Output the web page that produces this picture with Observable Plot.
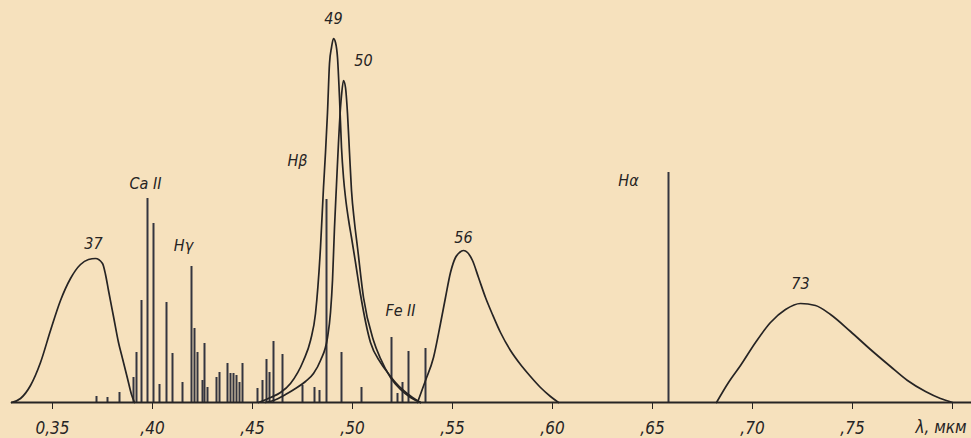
<!DOCTYPE html>
<html>
<head>
<meta charset="utf-8">
<script src="https://cdn.jsdelivr.net/npm/d3@7"></script>
<script src="https://cdn.jsdelivr.net/npm/@observablehq/plot@0.6"></script>
<style>
  html, body { margin: 0; padding: 0; background: #f6e1bd; }
  #chart svg { display: block; }
</style>
</head>
<body>
<div id="chart"></div>
<script>
// Filter transmission curves: [wavelength (µm), relative transmission]
const filter37 = [[0.327,0],[0.3315,4],[0.3365,17],[0.3415,40],[0.3465,72],[0.3515,102],[0.3565,124],[0.3615,138],[0.3655,143],[0.369,144],[0.3725,139],[0.374,128],[0.3755,112],[0.378,86],[0.3805,60],[0.3825,44],[0.385,24],[0.387,8],[0.3885,0]];
const filter49 = [[0.4505,0],[0.4565,5],[0.4615,10],[0.4665,19],[0.473,42],[0.4765,62],[0.479,89],[0.4815,155],[0.483,215],[0.484,250],[0.485,290],[0.486,339],[0.487,355],[0.488,364],[0.489,360],[0.490,345],[0.491,305],[0.492,255],[0.493,225],[0.494,205],[0.4955,183],[0.497,165],[0.499,140],[0.5015,108],[0.5065,60],[0.5115,40],[0.515,30],[0.519,20],[0.523,12],[0.5275,5],[0.5315,0]];
const filter50 = [[0.454,0],[0.458,2],[0.464,8],[0.469,14],[0.474,21],[0.478,29],[0.4815,42],[0.485,65],[0.4865,90],[0.4875,122],[0.4885,175],[0.4895,218],[0.4905,260],[0.4915,295],[0.492,307],[0.493,322],[0.494,315],[0.495,289],[0.496,250],[0.497,212],[0.4985,180],[0.5,155],[0.503,105],[0.508,62],[0.5115,44],[0.5165,25],[0.5215,13],[0.5265,5],[0.5315,0]];
const filter56 = [[0.53,0],[0.534,22],[0.538,45],[0.5415,79],[0.544,105],[0.5465,130],[0.549,145],[0.551,150],[0.553,152],[0.555,150],[0.5575,142],[0.5605,125],[0.564,105],[0.5675,88],[0.5715,70],[0.5765,52],[0.5815,38],[0.5865,26],[0.5915,15],[0.5965,6],[0.6005,0]];
const filter73 = [[0.6795,0],[0.6855,20],[0.6915,37],[0.699,60],[0.7065,80],[0.714,93],[0.7215,99],[0.729,97],[0.7365,88],[0.7465,71],[0.7565,53],[0.7665,36],[0.775,22],[0.784,11],[0.7915,4],[0.7975,0]];

// Spectral emission lines
const lineWavelengths = [0.3695,0.375,0.381,0.388,0.3895,0.392,0.395,0.398,0.401,0.4045,0.4075,0.4125,0.417,0.4185,0.42,0.4225,0.4235,0.425,0.4295,0.431,0.435,0.4365,0.438,0.4395,0.441,0.4425,0.45,0.4525,0.4545,0.456,0.458,0.4625,0.4725,0.4785,0.481,0.4845,0.492,0.502,0.517,0.52,0.5225,0.5255,0.534,0.6555];
const lineIntensities = [6,5,10,25,50,102,204,179,18,100,49,20,136,74,50,22,59,15,25,30,39,29,29,27,20,39,14,22,43,30,61,48,17,15,12,203,50,15,65,9,20,51,54,230];

// Annotations
const labelTexts = ["37","49","50","56","73","Ca II","Hγ","Hβ","Fe II","Hα"];
const labelWavelengths = [0.368,0.488,0.503,0.553,0.7215,0.394,0.413,0.470,0.5215,0.6355];
const labelHeights = [159,384,342,165,119,219,157,242,92,222];

// Axis
const tickValues = [0.35,0.40,0.45,0.50,0.55,0.60,0.65,0.70,0.75,0.80];
const tickLabels = ["0,35",",40",",45",",50",",55",",60",",65",",70",",75",""];
const axisUnit = "λ, мкм";

const lines = lineWavelengths.map((w, i) => ({w, h: lineIntensities[i]}));
const labels = labelTexts.map((t, i) => ({t, w: labelWavelengths[i], h: labelHeights[i]}));
const curves = [filter37, filter49, filter50, filter56, filter73];

const ink = "#262424";
const font = "'Liberation Sans Narrow', 'DejaVu Sans Condensed', sans-serif";

const chart = Plot.plot({
  width: 971,
  height: 438,
  marginLeft: 0,
  marginRight: 0,
  marginTop: 0,
  marginBottom: 36,
  style: {background: "#f6e1bd", fontFamily: font, fontStyle: "italic", color: ink},
  x: {domain: [0.3215, 0.807], label: null},
  y: {domain: [0, 402], axis: null, label: null},
  marks: [
    Plot.ruleX(lines, {x: "w", y1: 0, y2: "h", stroke: "#34353f", strokeWidth: 2}),
    ...curves.map(c => Plot.line(c, {x: d => d[0], y: d => d[1], curve: "monotone-x", stroke: ink, strokeWidth: 1.7})),
    Plot.ruleY([0], {x1: 0.327, x2: 0.807, stroke: ink, strokeWidth: 2}),
    Plot.axisX(tickValues, {label: null, tickSize: 7, tickPadding: 12, tickFormat: (d, i) => tickLabels[i], fontSize: 17, dx: -5, stroke: ink, color: ink}),
    Plot.text([axisUnit], {x: () => 0.80, y: 0, text: d => d, dy: 25, dx: 9, textAnchor: "end", fontSize: 17, fill: ink}),
    Plot.text(labels, {x: "w", y: "h", text: "t", fontSize: 16, fill: ink})
  ]
});
document.getElementById("chart").appendChild(chart);
</script>
</body>
</html>
